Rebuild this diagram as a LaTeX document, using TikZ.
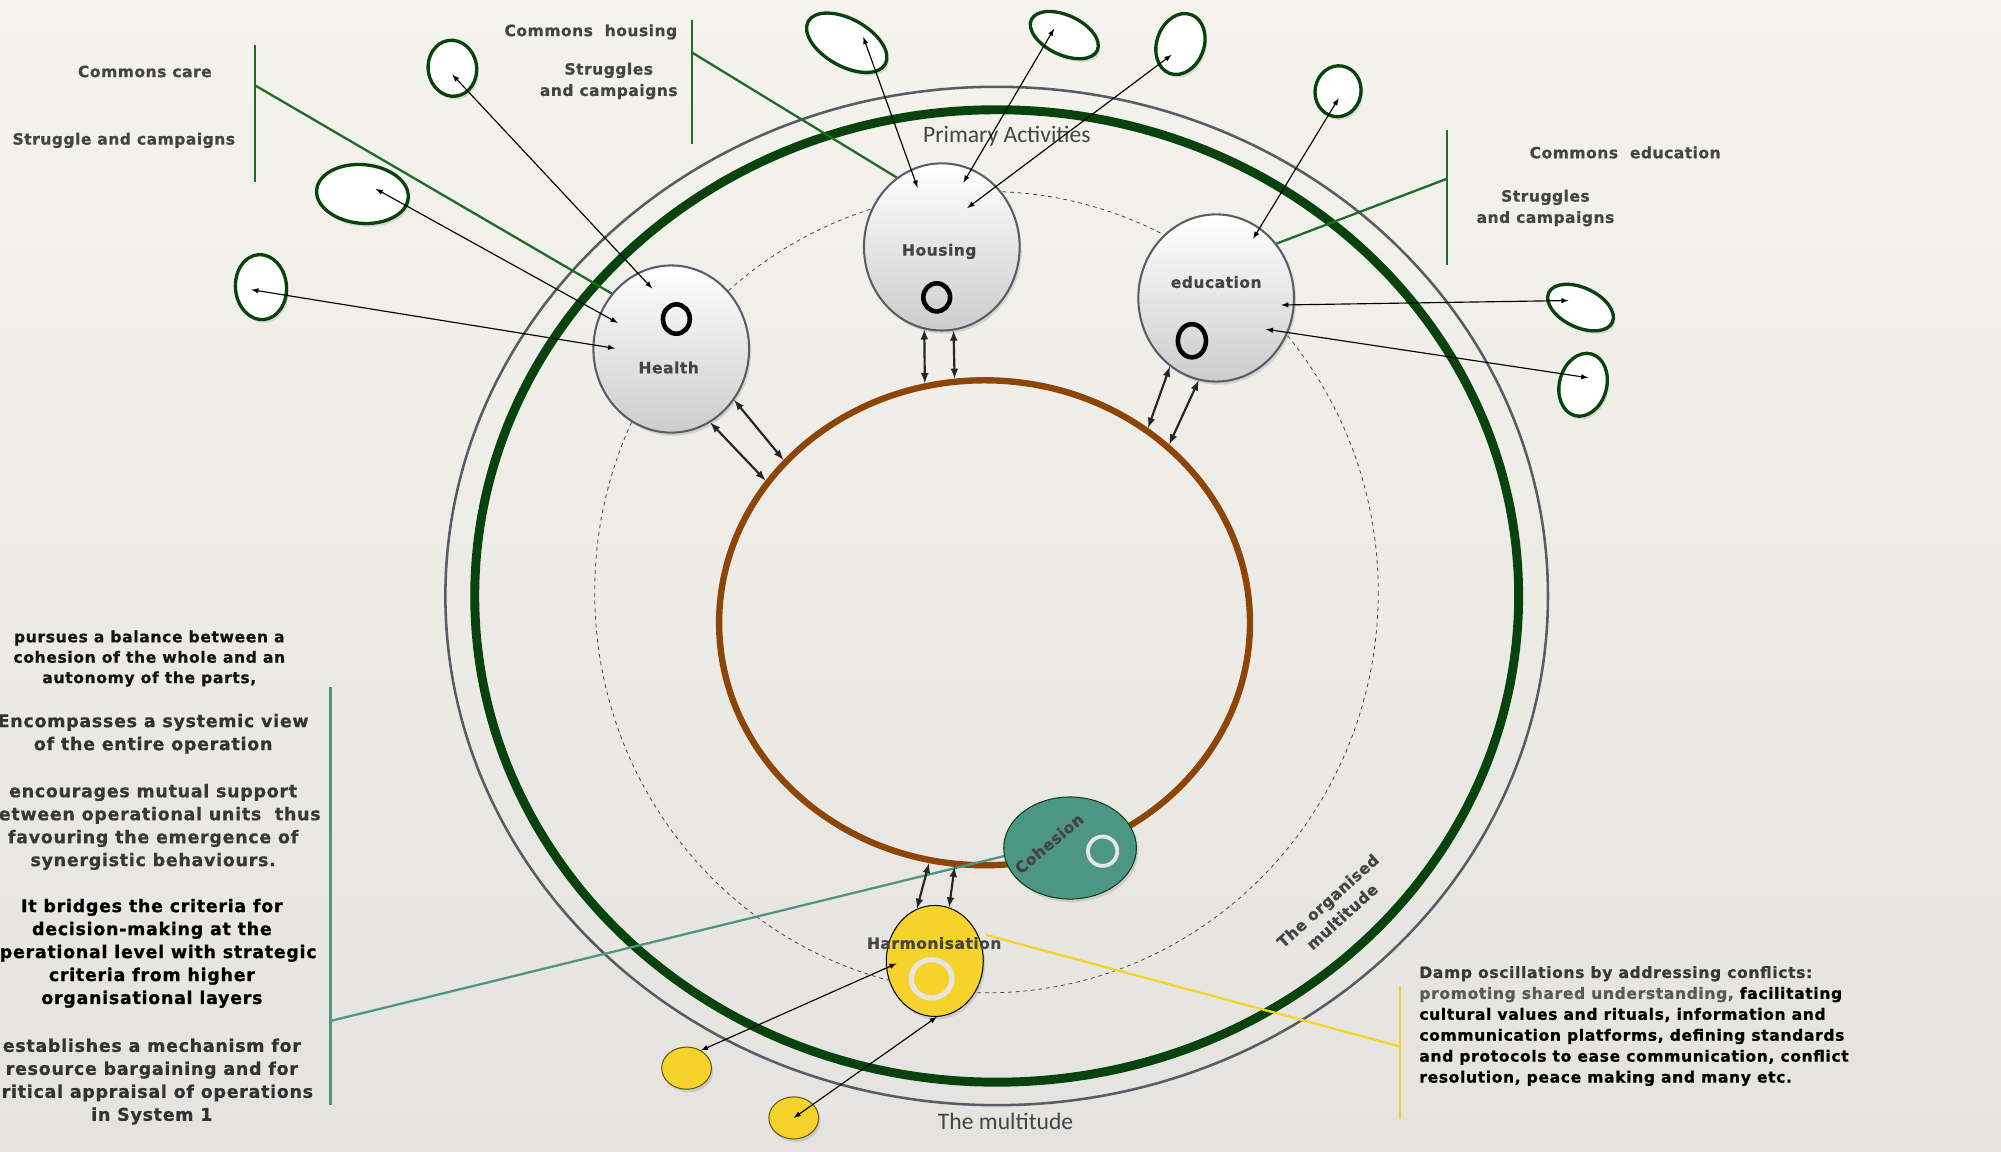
\documentclass[tikz,border=0pt]{standalone}
\usepackage{fontspec}
\setmainfont{Liberation Sans}
\newfontfamily\tagfont[LetterSpace=3,BoldFeatures={FakeBold=0.6}]{DejaVu Sans}
\newfontfamily\notefont[LetterSpace=4,BoldFeatures={FakeBold=0.8}]{DejaVu Sans}
\newfontfamily\layerfont{Carlito}
\usetikzlibrary{arrows,shapes.geometric,shadows}

\definecolor{paper}{RGB}{245,243,237}
\definecolor{paperlow}{RGB}{229,227,223}
\definecolor{deepgreen}{RGB}{8,66,12}
\definecolor{leafgreen}{RGB}{32,108,42}
\definecolor{rimgray}{RGB}{88,92,100}
\definecolor{rust}{RGB}{142,70,8}
\definecolor{cohteal}{RGB}{78,150,132}
\definecolor{harmyellow}{RGB}{245,211,42}
\definecolor{inkgray}{RGB}{68,68,70}

\begin{document}
\begin{tikzpicture}[x=1pt,y=-1pt,>=latex]
    \tikzstyle{soft shadow}=[drop shadow={opacity=0.25,shadow xshift=1.5pt,shadow yshift=-2.5pt}]
    \tikzstyle{unit}=[ellipse,draw=rimgray,line width=1.6pt,top color=white,bottom color=black!20,inner sep=0pt,minimum width=122pt,minimum height=131pt,soft shadow]
    \tikzstyle{satellite}=[ellipse,draw=deepgreen,line width=2.6pt,fill=white,inner sep=0pt,soft shadow]
    \tikzstyle{ring}=[ellipse,draw=black,line width=3.6pt,inner sep=0pt]
    \tikzstyle{tag}=[font={\tagfont\bfseries\fontsize{12.2}{16.7}\selectfont},text=inkgray,inner sep=0pt]
    \tikzstyle{note}=[font={\notefont\bfseries\fontsize{13.7}{18}\selectfont},align=center,inner sep=0pt]
    \tikzstyle{layer}=[font={\layerfont\fontsize{18.5}{20}\selectfont},text=inkgray,inner sep=0pt]
    \tikzstyle{link}=[<->,line width=0.9pt]
    \tikzstyle{flow}=[<->,line width=1.7pt,draw=black!85]
    \tikzstyle{callout}=[line width=1.8pt]

    % Draw the paper
    \fill[top color=paper,bottom color=paperlow] (0,0) rectangle (1568,902);
    \useasboundingbox (0,0) rectangle (1568,902);

    % Draw the layers of the multitude
    \draw[rimgray,line width=2pt] (781,467) ellipse (432 and 399);
    \draw[deepgreen,line width=7pt] (781,467) ellipse (409 and 381);
    \draw[black!75,line width=0.6pt,dash pattern=on 3pt off 3pt] (773,464) ellipse (307 and 314);
    \node[ellipse,draw=rust,line width=5pt,minimum width=416pt,minimum height=380pt,inner sep=0pt] (core) at (771.5,488) {};

    \node[layer] (primary) at (789,107) {Primary Activities};
    \node[layer] (multitude) at (788,879) {The multitude};
    \node[tag,align=center,rotate=42] (organised) at (1046,712) {The organised\\multitude};

    % Draw the callout brackets
    \foreach \name/\x/\ytop/\ybot/\yjoint in {care/200/35/143/67, house/542/16/113/41, learn/1134/102/208/140}
    {
        \draw[leafgreen,callout] (\x,\ytop) -- (\x,\ybot);
        \coordinate (\name-joint) at (\x,\yjoint);
    }
    \draw[cohteal,callout] (259,538) -- (259,866);
    \coordinate (coh-joint) at (259,800);
    \draw[harmyellow,callout] (1097,773) -- (1097,877);
    \coordinate (harm-joint) at (1097,820);

    % Draw the primary activities
    \node[unit] (health) at (526,273.5) {};
    \node[unit] (housing) at (738,193.5) {};
    \node[unit] (educ) at (953,233.5) {};

    % Draw the cohesion and harmonisation units
    \node[ellipse,draw=deepgreen,line width=0.8pt,fill=cohteal,minimum width=104pt,minimum height=80pt,inner sep=0pt,soft shadow] (cohesion) at (838.5,664.5) {};
    \node[ellipse,draw=black,line width=0.8pt,fill=harmyellow,minimum width=76pt,minimum height=87pt,inner sep=0pt,soft shadow] (harmon) at (732.5,753) {};
    \foreach \name/\x/\y in {bead-a/538/837, bead-b/622/876}
        \node[ellipse,draw=black!60!harmyellow,line width=0.8pt,fill=harmyellow,minimum width=39pt,minimum height=33pt,inner sep=0pt,soft shadow] (\name) at (\x,\y) {};

    % Connect the brackets with the units
    \draw[leafgreen,callout] (care-joint) -- (health.137);
    \draw[leafgreen,callout] (house-joint) -- (housing.123);
    \draw[leafgreen,callout] (learn-joint) -- (educ.42);
    \draw[cohteal,callout] (coh-joint) -- (cohesion.187);
    \draw[harmyellow,callout,shorten <=7pt] (harmon.34) -- (harm-joint);

    % Draw the rings inside the units
    \node[ring,minimum width=21pt,minimum height=23pt] (health-ring) at (530,250) {};
    \node[ring,minimum width=21pt,minimum height=22pt] (housing-ring) at (734,233) {};
    \node[ring,minimum width=22pt,minimum height=26pt] (educ-ring) at (934,267) {};
    \node[ring,draw=black!10,line width=3pt,minimum width=23pt,minimum height=23pt] (cohesion-ring) at (864,667) {};
    \node[ring,draw=black!10,line width=4pt,minimum width=32pt,minimum height=30pt] (harmon-ring) at (730,767) {};

    % Name the units
    \node[tag] (health-label) at (524,288) {Health};
    \node[tag] (housing-label) at (736,197) {Housing};
    \node[tag] (educ-label) at (953,221) {education};
    \node[tag,rotate=40] (cohesion-label) at (822,661) {Cohesion};
    \node[tag] (harmon-label) at (732,739) {Harmonisation};

    % Draw the commons around the activities
    \foreach \name/\x/\y/\w/\h/\r/\tx/\ty in {s1/354.5/53.5/38/44/8/354.5/58.5, s2/284/152/72/46/-5/294.5/148, s3/204.5/225/40/51/5/197/227, s4/663.5/33.5/69/37/-29/676.5/29, s5/834/27.5/57/31/-25/826/22.5, s6/925/34.5/37/49/-20/918/43, s7/1048.5/71.5/36/40/-10/1049/77, s8/1238.5/241/55/31/-25/1229/235.5, s9/1240.5/301.5/37/50/-15/1244.5/296}
    {
        \node[satellite,minimum width=\w pt,minimum height=\h pt,rotate=\r] (\name) at (\x,\y) {};
        \coordinate (\name-tip) at (\tx,\ty);
    }

    % Connect every commons with its activity
    \foreach \name/\x/\y in {h1/511/226, h2/484/253, h3/482/273, o1/719/147, o2/755/143, o3/758/163, e1/982/187, e2/1004/239, e3/992/258, m1/702.5/755}
        \coordinate (\name) at (\x,\y);
    \foreach \source/\dest in {s1/h1, s2/h2, s3/h3, s4/o1, s5/o2, s6/o3, s7/e1, s8/e2, s9/e3}
        \draw[link] (\source-tip) -- (\dest);
    \draw[link] (bead-a.51) -- (m1);
    \draw[link] (bead-b.center) -- (harmon.-88);

    % Connect the units with the core
    \foreach \source/\dest in {health.-39/core.141, health.-62/core.147, housing.-102/core.104, housing.-82/core.97, educ.-124/core.50, educ.-102/core.44, harmon.109/core.-103, harmon.75/core.-97}
        \draw[flow] (\source) -- (\dest);

    % Annotate the commons
    \node[tag] (care-title) at (113.5,56) {Commons care};
    \node[tag] (care-fight) at (97,110) {Struggle and campaigns};
    \node[tag] (house-title) at (463,25) {Commons\ \ housing};
    \node[tag,align=center] (house-fight) at (477,63.5) {Struggles\\and campaigns};
    \node[tag] (learn-title) at (1273.5,119.5) {Commons\ \ education};
    \node[tag,align=center] (learn-fight) at (1211,163) {Struggles\\and campaigns};

    % Annotate cohesion
    \node[note,font={\notefont\bfseries\fontsize{12.2}{16}\selectfont},text=black!92] (balance) at (117,516) {pursues a balance between a\\cohesion of the whole and an\\autonomy of the parts,};
    \node[note,text=black!80] (systemic) at (120,575) {Encompasses a systemic view\\of the entire operation};
    \node[note,text=black!78] (support) at (120,648) {encourages mutual support\\between operational units\ \ thus\\favouring the emergence of\\synergistic behaviours.};
    \node[note,text=black] (bridge) at (119,747) {It bridges the criteria for\\decision-making at the\\operational level with strategic\\criteria from higher\\organisational layers};
    \node[note,text=black!80] (bargain) at (119,847.5) {establishes a mechanism for\\resource bargaining and for\\critical appraisal of operations\\in System 1};

    % Annotate harmonisation
    \node[note,align=left,anchor=west,text=black,font={\notefont\bfseries\fontsize{12.2}{16.4}\selectfont}] (damp) at (1112,804) {{\color{black!78}Damp oscillations by addressing conflicts:}\\{\color{black!65}promoting shared understanding,} facilitating\\cultural values and rituals, information and\\communication platforms, defining standards\\and protocols to ease communication, conflict\\resolution, peace making and many etc.};

\end{tikzpicture}
\end{document}
